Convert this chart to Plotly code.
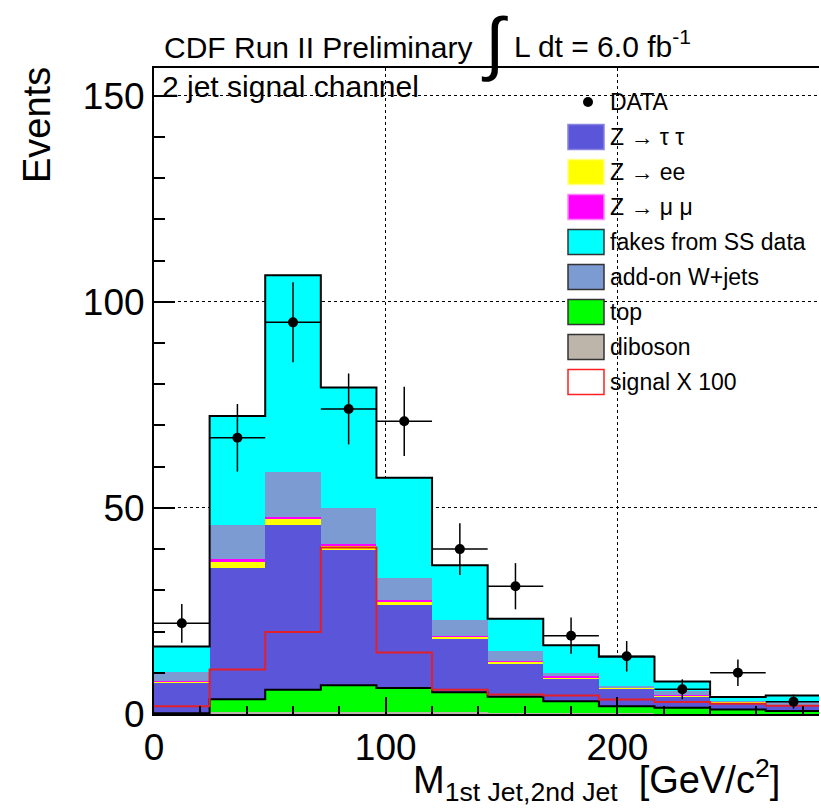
import plotly.graph_objects as go
import numpy as np

# bins of 24 GeV/c^2
bin_edges = [0, 24, 48, 72, 96, 120, 144, 168, 192, 216, 240, 264, 288]
bin_centers = [12, 36, 60, 84, 108, 132, 156, 180, 204, 228, 252, 276]

# stacked backgrounds (per-bin contributions, bottom to top)
diboson = [0.1, 0.4, 0.6, 0.6, 0.5, 0.4, 0.3, 0.2, 0.15, 0.1, 0.1, 0.05]
top = [0.1, 3.2, 5.3, 6.4, 5.8, 4.9, 3.9, 2.9, 1.75, 1.4, 1.0, 0.65]
z_tautau = [7.5, 31.9, 39.9, 32.8, 20.1, 13.1, 8.0, 5.5, 4.2, 2.8, 1.7, 1.4]
z_ee = [0.2, 1.4, 1.5, 1.1, 0.8, 0.3, 0.5, 0.3, 0.3, 0.2, 0.15, 0.1]
z_mumu = [0.1, 0.7, 0.4, 0.4, 0.5, 0.2, 0.2, 0.2, 0.1, 0.1, 0.05, 0.05]
wjets = [2.2, 8.3, 11.1, 8.6, 5.2, 3.8, 2.3, 0.9, 0.4, 0.9, 0.1, 0.75]
fakes = [6.2, 26.4, 47.6, 29.3, 24.4, 13.4, 7.9, 6.7, 7.0, 2.4, 1.0, 1.5]

# signal x 100 (overlay, not stacked)
signal = [1.9, 10.8, 19.9, 40.4, 14.9, 5.9, 4.7, 4.5, 3.5, 2.9, 2.5, 2.0]

# data
data = [22, 67, 95, 74, 71, 40, 31, 19, 14, 6, 10, 3]
data_err = [4.7, 8.2, 9.7, 8.6, 8.4, 6.3, 5.6, 4.4, 3.7, 2.4, 3.2, 1.7]

FONT = "Liberation Sans, Arial, Helvetica, sans-serif"
W, H = 819, 808
L, R, T, B = 154, 0, 68, 94


def px(x, y):
    """pixel -> paper coords"""
    return (x - L) / (W - L - R), (H - B - y) / (H - T - B)


fig = go.Figure()

stack = [
    ("diboson", diboson, "#bdb5aa"),
    ("top", top, "#00ff00"),
    ("Z tautau", z_tautau, "#5a55d9"),
    ("Z ee", z_ee, "#ffff00"),
    ("Z mumu", z_mumu, "#ff00ff"),
    ("W+jets", wjets, "#7b9bd2"),
    ("fakes", fakes, "#00ffff"),
]
for name, vals, col in stack:
    fig.add_trace(go.Bar(
        x=bin_centers, y=vals, width=24, name=name,
        marker=dict(color=col, line=dict(width=0)),
        showlegend=False,
    ))

# outlines of the stack (black steps)
total = np.sum([v for _, v, _ in stack], axis=0)
top_cum = np.array(diboson) + np.array(top)
for vals in (total, top_cum):
    fig.add_trace(go.Scatter(
        x=bin_edges, y=list(vals) + [vals[-1]], mode="lines",
        line=dict(color="black", width=2, shape="hv"), showlegend=False,
    ))

fig.add_trace(go.Scatter(
    x=bin_edges, y=signal + [signal[-1]], mode="lines",
    line=dict(color="#e3202a", width=2, shape="hv"), showlegend=False,
))

fig.add_trace(go.Scatter(
    x=bin_centers, y=data, mode="markers",
    marker=dict(color="black", size=10),
    error_x=dict(type="constant", value=12, color="black", thickness=1.5, width=0),
    error_y=dict(type="data", array=data_err, color="black", thickness=1.5, width=0),
    showlegend=False,
))

# ---- legend drawn by hand (ROOT TLegend look)
legend_rows = [
    ("Z \u2192 \u03c4 \u03c4", "#5a55d9", "#8884e0"),
    ("Z \u2192 ee", "#ffff00", "#ffff80"),
    ("Z \u2192 \u03bc \u03bc", "#ff00ff", "#ff80ff"),
    ("fakes from SS data", "#00ffff", "#333333"),
    ("add-on W+jets", "#7b9bd2", "#333333"),
    ("top", "#00ff00", "#333333"),
    ("diboson", "#bdb5aa", "#333333"),
    ("signal X 100", "white", "#ff2020"),
]
shapes = []
annotations = []
cx, cy = px(588, 102)
r0x, r0y = px(583, 97)
r1x, r1y = px(593, 107)
shapes.append(dict(type="circle", xref="paper", yref="paper", x0=r0x, y0=r1y, x1=r1x, y1=r0y,
                   fillcolor="black", line=dict(color="black", width=0)))
annotations.append(dict(text="DATA", xref="paper", yref="paper", x=px(608, 0)[0], y=cy,
                        xanchor="left", yanchor="middle", showarrow=False,
                        font=dict(family=FONT, size=23, color="black")))
for i, (label, fill, edge) in enumerate(legend_rows):
    yc = 137 + 35 * i
    x0, y0 = px(568, yc + 12.5)
    x1, y1 = px(604, yc - 12.5)
    shapes.append(dict(type="rect", xref="paper", yref="paper", x0=x0, y0=y0, x1=x1, y1=y1,
                       fillcolor=fill, line=dict(color=edge, width=1.5)))
    annotations.append(dict(text=label, xref="paper", yref="paper", x=px(608, 0)[0], y=px(0, yc)[1],
                            xanchor="left", yanchor="middle", showarrow=False,
                            font=dict(family=FONT, size=23, color="black")))

# ---- titles
def add_text(text, x, y, size, xanchor="left", angle=0):
    xp, yp = px(x, y)
    annotations.append(dict(text=text, xref="paper", yref="paper", x=xp, y=yp,
                            xanchor=xanchor, yanchor="middle", showarrow=False,
                            textangle=angle, font=dict(family=FONT, size=size, color="black")))


add_text("CDF Run II Preliminary", 162, 47, 30)
add_text("\u222b", 479, 43, 70)
add_text("L dt = 6.0 fb<sup>-1</sup>", 512, 44, 30)
add_text("2 jet signal channel", 160, 86, 30)
add_text("Events", 37, 125, 38, xanchor="center", angle=-90)
add_text("M<sub>1st Jet,2nd Jet</sub>\u00a0\u00a0[GeV/c<sup>2</sup>]", 782, 780, 38, xanchor="right")

fig.update_layout(
    width=W, height=H,
    margin=dict(l=L, r=R, t=T, b=B, pad=0),
    paper_bgcolor="white", plot_bgcolor="white",
    barmode="stack", bargap=0,
    shapes=shapes, annotations=annotations,
    font=dict(family=FONT, color="black"),
)
fig.update_xaxes(
    range=[0, 287], tickvals=[0, 100, 200], ticks="inside", ticklen=17, tickwidth=1.5,
    tickcolor="black", tickfont=dict(size=37, family=FONT), automargin=False,
    minor=dict(ticks="inside", ticklen=8, dtick=20, tickwidth=1.5, tickcolor="black", showgrid=False),
    showgrid=True, gridcolor="black", griddash="dot", gridwidth=1,
    showline=True, linecolor="black", linewidth=2, mirror=True, zeroline=False,
)
fig.update_yaxes(
    range=[0, 156.7], tickvals=[0, 50, 100, 150], ticks="inside", ticklen=21, tickwidth=1.5,
    tickcolor="black", tickfont=dict(size=37, family=FONT), automargin=False,
    minor=dict(ticks="inside", ticklen=11, dtick=10, tickwidth=1.5, tickcolor="black", showgrid=False),
    showgrid=True, gridcolor="black", griddash="dot", gridwidth=1,
    showline=True, linecolor="black", linewidth=2, mirror=True, zeroline=False,
)

# page body has an 8px default margin; drop it so the figure sits at the window origin
fig.write_html("out.html", config={"displayModeBar": False},
               post_script="document.body.style.margin='0';")
